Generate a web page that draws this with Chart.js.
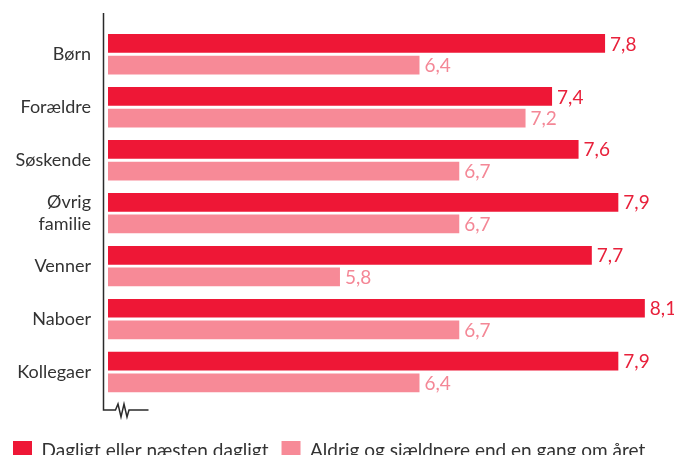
<!DOCTYPE html>
<html lang="da">
<head>
<meta charset="utf-8">
<title>Tillid</title>
<script src="https://cdn.jsdelivr.net/npm/chart.js@4.4.1/dist/chart.umd.min.js"></script>
<style>
    html, body { margin: 0; padding: 0; background: #fff; overflow: hidden; }
    #wrap { position: relative; width: 674px; height: 470px; }
</style>
</head>
<body>
<div id="wrap"><canvas id="trustChart"></canvas></div>
<script>
// Data
const categories = ['Børn', 'Forældre', 'Søskende', ['Øvrig', 'familie'], 'Venner', 'Naboer', 'Kollegaer'];
const seriesNames = ['Dagligt eller næsten dagligt', 'Aldrig og sjældnere end en gang om året'];
const dailyValues = [7.8, 7.4, 7.6, 7.9, 7.7, 8.1, 7.9];
const rarelyValues = [6.4, 7.2, 6.7, 6.7, 5.8, 6.7, 6.4];

const DARK = '#ee1736';
const LIGHT = '#f78a97';
const TEXT = '#333333';
const FONT = 'Lato, "Noto Sans", sans-serif';

// Vertical axis with a break symbol at the bottom (axis doesn't start at 0)
const brokenAxis = {
    id: 'brokenAxis',
    afterDraw(chart) {
        const { ctx, chartArea } = chart;
        const x = chartArea.left - 4.5;
        const yTop = 13;
        const yBot = 410;
        ctx.save();
        ctx.strokeStyle = '#2a2a2a';
        ctx.lineWidth = 1.5;
        ctx.lineJoin = 'miter';
        ctx.beginPath();
        ctx.moveTo(x, yTop);
        ctx.lineTo(x, yBot);
        ctx.lineTo(x + 12, yBot);
        ctx.lineTo(x + 14.5, yBot - 6);
        ctx.lineTo(x + 17.5, yBot + 7);
        ctx.lineTo(x + 20.5, yBot - 6);
        ctx.lineTo(x + 23.5, yBot + 7);
        ctx.lineTo(x + 25.5, yBot);
        ctx.lineTo(x + 45, yBot);
        ctx.stroke();
        ctx.restore();
    }
};

// Value labels at the end of each bar, Danish decimal comma
const valueLabels = {
    id: 'valueLabels',
    afterDatasetsDraw(chart) {
        const { ctx } = chart;
        ctx.save();
        ctx.font = '19px ' + FONT;
        ctx.textBaseline = 'middle';
        ctx.textAlign = 'left';
        chart.data.datasets.forEach((ds, i) => {
            const meta = chart.getDatasetMeta(i);
            ctx.fillStyle = ds.labelColor;
            meta.data.forEach((bar, j) => {
                const txt = ds.data[j].toFixed(1).replace('.', ',');
                ctx.fillText(txt, bar.x + 5, bar.y + 1);
            });
        });
        ctx.restore();
    }
};

new Chart(document.getElementById('trustChart').getContext('2d'), {
    type: 'bar',
    data: {
        labels: categories,
        datasets: [{
            label: seriesNames[0],
            data: dailyValues,
            backgroundColor: DARK,
            labelColor: '#e8213b',
            categoryPercentage: 0.818,
            barPercentage: 0.864
        }, {
            label: seriesNames[1],
            data: rarelyValues,
            backgroundColor: LIGHT,
            labelColor: '#f48796',
            categoryPercentage: 0.818,
            barPercentage: 0.864
        }]
    },
    options: {
        indexAxis: 'y',
        responsive: true,
        maintainAspectRatio: false,
        animation: false,
        layout: { padding: { top: 17.5, right: 0, left: 0, bottom: 0 } },
        scales: {
            x: {
                // hidden, only reserves room for the axis break below the bars
                min: 4.05,
                max: 8.32,
                afterFit(scale) { scale.height = 29.5; },
                grid: { display: false, drawTicks: false },
                border: { display: false },
                ticks: { display: false }
            },
            y: {
                afterFit(scale) { scale.width = 108; },
                grid: { display: false, drawTicks: false },
                border: { display: false },
                ticks: {
                    color: TEXT,
                    padding: 17,
                    font: { family: FONT, size: 18 }
                }
            }
        },
        plugins: {
            tooltip: { enabled: false },
            legend: {
                position: 'bottom',
                align: 'start',
                labels: {
                    color: TEXT,
                    boxWidth: 19,
                    boxHeight: 19,
                    padding: 13,
                    font: { family: FONT, size: 19 }
                }
            }
        }
    },
    plugins: [brokenAxis, valueLabels]
});
</script>
</body>
</html>
